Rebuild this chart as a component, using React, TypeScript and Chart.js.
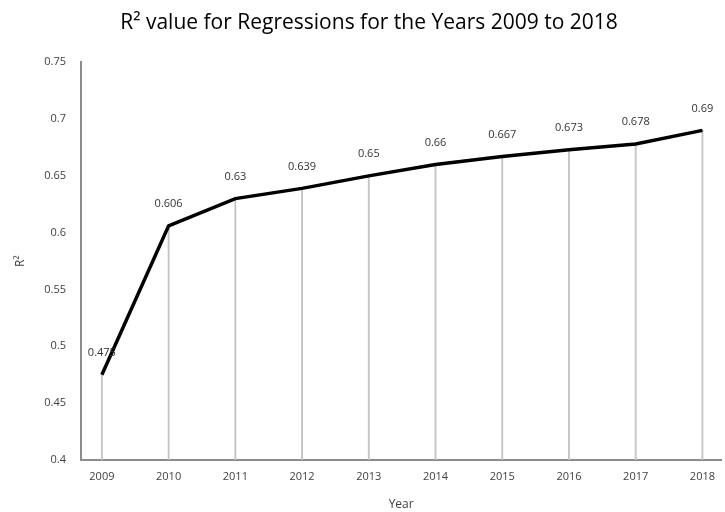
import React, { useEffect, useRef } from "react";
import { Chart, registerables } from "chart.js";

Chart.register(...registerables);

const years = ["2009", "2010", "2011", "2012", "2013", "2014", "2015", "2016", "2017", "2018"];
const r2Values = [0.475, 0.606, 0.63, 0.639, 0.65, 0.66, 0.667, 0.673, 0.678, 0.69];
const yMin = 0.4;
const yMax = 0.75;
const yStep = 0.05;

const FONT = "'Open Sans', 'DejaVu Sans', sans-serif";

const valueLabels = {
  id: "valueLabels",
  afterDatasetsDraw(chart: any) {
    const meta = chart.getDatasetMeta(0);
    const ctx = chart.ctx;
    ctx.save();
    ctx.font = `11px ${FONT}`;
    ctx.fillStyle = "#333333";
    ctx.textAlign = "center";
    ctx.textBaseline = "middle";
    meta.data.forEach((pt: any, i: number) => {
      ctx.fillText(String(r2Values[i]), pt.x, pt.y - 22);
    });
    ctx.restore();
  },
};

export default function App() {
  const ref = useRef<HTMLCanvasElement | null>(null);
  useEffect(() => {
    if (!ref.current) return;
    const chart = new Chart(ref.current, {
      type: "line",
      data: {
        labels: years,
        datasets: [
          {
            type: "line",
            label: "R²",
            data: r2Values,
            borderColor: "#000000",
            borderWidth: 3.5,
            pointRadius: 0,
            tension: 0,
            order: 0,
          } as any,
          {
            type: "bar",
            label: "drop",
            data: r2Values,
            backgroundColor: "#c4c4c4",
            barThickness: 1.2,
            order: 1,
          } as any,
        ],
      },
      options: {
        animation: false,
        responsive: true,
        maintainAspectRatio: false,
        layout: { padding: { left: 13, right: 0, top: 0, bottom: 0 } },
        plugins: {
          legend: { display: false },
          tooltip: { enabled: false },
          title: {
            display: true,
            text: "R² value for Regressions for the Years 2009 to 2018",
            color: "#000000",
            font: { family: FONT, size: 21, weight: "normal" },
            padding: { top: 10, bottom: 27 },
          },
        },
        scales: {
          x: {
            type: "category",
            offset: false,
            afterBuildTicks: (scale: any) => {
              scale._startValue = -0.313;
              scale._valueRange = 9.596;
            },
            afterFit: (scale: any) => {
              scale.height = 52;
            },
            grid: { display: false, drawTicks: false },
            border: { display: true, color: "#8c8c8c", width: 2 },
            ticks: {
              color: "#404040",
              font: { family: FONT, size: 11 },
              padding: 10,
              maxRotation: 0,
              autoSkip: false,
            },
            title: {
              display: true,
              text: "Year",
              color: "#404040",
              font: { family: FONT, size: 12 },
              padding: { top: 4, bottom: 0 },
            },
          },
          y: {
            type: "linear",
            min: yMin,
            max: yMax,
            afterFit: (scale: any) => {
              scale.width = 68;
            },
            grid: { display: false, drawTicks: false },
            border: { display: true, color: "#8c8c8c", width: 2 },
            ticks: {
              stepSize: yStep,
              color: "#404040",
              font: { family: FONT, size: 11 },
              padding: 15,
              callback: (v: any) => String(Math.round(Number(v) * 100) / 100),
            },
            title: {
              display: true,
              text: "R²",
              color: "#404040",
              font: { family: FONT, size: 12 },
              padding: { top: 0, bottom: 8 },
            },
          },
        },
      },
      plugins: [valueLabels],
    });
    return () => chart.destroy();
  }, []);
  return (
    <div style={{ position: "fixed", left: 0, top: 0, width: 725, height: 512, background: "#ffffff" }}>
      <canvas ref={ref} />
    </div>
  );
}
